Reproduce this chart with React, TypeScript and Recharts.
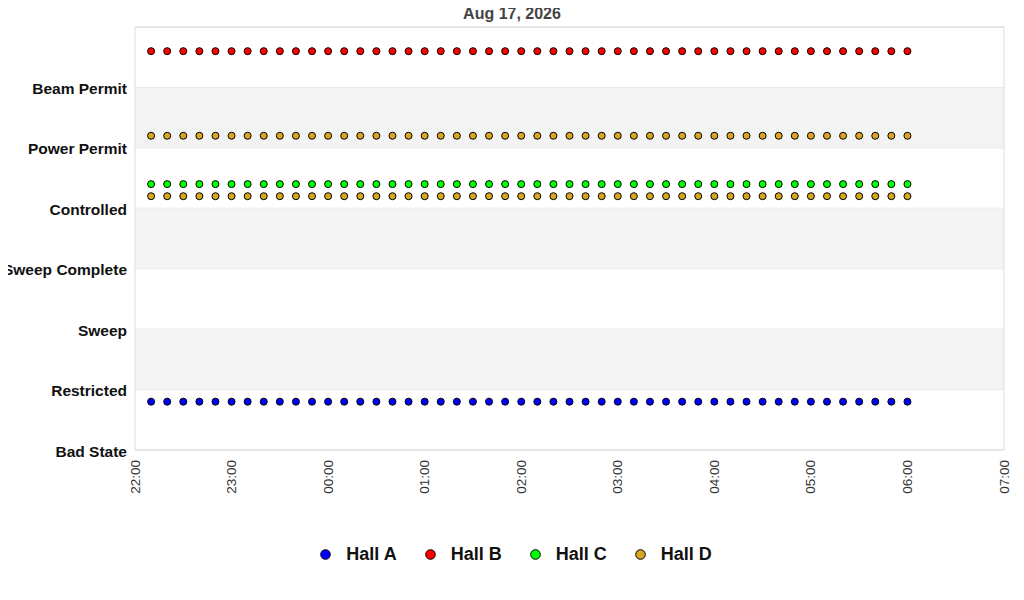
import React from 'react';
import { ScatterChart, Scatter, XAxis, YAxis, CartesianGrid, ReferenceArea, Legend } from 'recharts';

const title = 'Aug 17, 2026';
const stateLabels = ['Bad State', 'Restricted', 'Sweep', 'Sweep Complete', 'Controlled', 'Power Permit', 'Beam Permit', ''];
const yTicks = [0, 1, 2, 3, 4, 5, 6, 7];
const xTickLabels = ['22:00', '23:00', '00:00', '01:00', '02:00', '03:00', '04:00', '05:00', '06:00', '07:00'];
const xTicks = [0, 60, 120, 180, 240, 300, 360, 420, 480, 540];
// minutes after 22:00
const times = [10, 20, 30, 40, 50, 60, 70, 80, 90, 100, 110, 120, 130, 140, 150, 160, 170, 180, 190, 200, 210, 220, 230, 240, 250, 260, 270, 280, 290, 300, 310, 320, 330, 340, 350, 360, 370, 380, 390, 400, 410, 420, 430, 440, 450, 460, 470, 480];
const hallA = [0.8, 0.8, 0.8, 0.8, 0.8, 0.8, 0.8, 0.8, 0.8, 0.8, 0.8, 0.8, 0.8, 0.8, 0.8, 0.8, 0.8, 0.8, 0.8, 0.8, 0.8, 0.8, 0.8, 0.8, 0.8, 0.8, 0.8, 0.8, 0.8, 0.8, 0.8, 0.8, 0.8, 0.8, 0.8, 0.8, 0.8, 0.8, 0.8, 0.8, 0.8, 0.8, 0.8, 0.8, 0.8, 0.8, 0.8, 0.8];
const hallB = [6.6, 6.6, 6.6, 6.6, 6.6, 6.6, 6.6, 6.6, 6.6, 6.6, 6.6, 6.6, 6.6, 6.6, 6.6, 6.6, 6.6, 6.6, 6.6, 6.6, 6.6, 6.6, 6.6, 6.6, 6.6, 6.6, 6.6, 6.6, 6.6, 6.6, 6.6, 6.6, 6.6, 6.6, 6.6, 6.6, 6.6, 6.6, 6.6, 6.6, 6.6, 6.6, 6.6, 6.6, 6.6, 6.6, 6.6, 6.6];
const hallC = [4.4, 4.4, 4.4, 4.4, 4.4, 4.4, 4.4, 4.4, 4.4, 4.4, 4.4, 4.4, 4.4, 4.4, 4.4, 4.4, 4.4, 4.4, 4.4, 4.4, 4.4, 4.4, 4.4, 4.4, 4.4, 4.4, 4.4, 4.4, 4.4, 4.4, 4.4, 4.4, 4.4, 4.4, 4.4, 4.4, 4.4, 4.4, 4.4, 4.4, 4.4, 4.4, 4.4, 4.4, 4.4, 4.4, 4.4, 4.4];
const hallDUpper = [5.2, 5.2, 5.2, 5.2, 5.2, 5.2, 5.2, 5.2, 5.2, 5.2, 5.2, 5.2, 5.2, 5.2, 5.2, 5.2, 5.2, 5.2, 5.2, 5.2, 5.2, 5.2, 5.2, 5.2, 5.2, 5.2, 5.2, 5.2, 5.2, 5.2, 5.2, 5.2, 5.2, 5.2, 5.2, 5.2, 5.2, 5.2, 5.2, 5.2, 5.2, 5.2, 5.2, 5.2, 5.2, 5.2, 5.2, 5.2];
const hallDLower = [4.2, 4.2, 4.2, 4.2, 4.2, 4.2, 4.2, 4.2, 4.2, 4.2, 4.2, 4.2, 4.2, 4.2, 4.2, 4.2, 4.2, 4.2, 4.2, 4.2, 4.2, 4.2, 4.2, 4.2, 4.2, 4.2, 4.2, 4.2, 4.2, 4.2, 4.2, 4.2, 4.2, 4.2, 4.2, 4.2, 4.2, 4.2, 4.2, 4.2, 4.2, 4.2, 4.2, 4.2, 4.2, 4.2, 4.2, 4.2];

const toPoints = (vals: number[]) => vals.map((v, i) => ({ t: times[i], v }));

const series = [
  { name: 'Hall A', color: '#0000ff', data: toPoints(hallA) },
  { name: 'Hall B', color: '#ff0000', data: toPoints(hallB) },
  { name: 'Hall C', color: '#00ff00', data: toPoints(hallC) },
  { name: 'Hall D', color: '#daa520', data: [...toPoints(hallDUpper), ...toPoints(hallDLower)] },
];

const FONT = '"Liberation Sans", Arial, sans-serif';
const W = 1016;

const makeDot = (color: string) => (props: any) => {
  const { cx, cy } = props;
  if (cx == null || cy == null) return <g />;
  return <circle cx={cx} cy={cy} r={3.5} fill={color} stroke="#000" strokeWidth={1} />;
};

const XTick = (props: any) => {
  const { x, y, payload } = props;
  const idx = xTicks.indexOf(payload.value);
  return (
    <g transform={`translate(${x},${y})`}>
      <text transform="rotate(-90)" x={-2} y={0} textAnchor="end" dominantBaseline="central" fontSize={13.5} fill="#333" fontFamily={FONT}>
        {idx >= 0 ? xTickLabels[idx] : ''}
      </text>
    </g>
  );
};

const YTick = (props: any) => {
  const { y, payload } = props;
  const label = stateLabels[payload.value] ?? '';
  return (
    <text x={127} y={y + 1} textAnchor="end" dominantBaseline="central" fontSize={15.5} fontWeight="bold" fill="#111" fontFamily={FONT}>
      {label}
    </text>
  );
};

const LegendContent = () => (
  <div style={{ height: 30, display: 'flex', alignItems: 'center', justifyContent: 'center', paddingLeft: 28, fontFamily: FONT }}>
    {series.map((s, i) => (
      <div key={s.name} style={{ display: 'flex', alignItems: 'center', marginLeft: i === 0 ? 0 : 28 }}>
        <svg width={11} height={11} style={{ display: 'block' }}>
          <circle cx={5.5} cy={5.5} r={4.8} fill={s.color} stroke="#000" strokeWidth={1} />
        </svg>
        <span style={{ marginLeft: 15, fontSize: 18, fontWeight: 'bold', color: '#111' }}>{s.name}</span>
      </div>
    ))}
  </div>
);

export default function App() {
  return (
    <div style={{ position: 'relative', left: -8, width: W, height: 584, fontFamily: FONT }}>
      <div style={{ position: 'absolute', top: -3, left: 8, width: 1008, textAlign: 'center', fontSize: 16, fontWeight: 'bold', color: '#444', zIndex: 2 }}>
        {title}
      </div>
      <ScatterChart width={W} height={584} margin={{ top: 19, right: 12, left: 0, bottom: 23 }}>
        <ReferenceArea x1={0} x2={540} y1={1} y2={2} fill="#f3f3f3" fillOpacity={1} stroke="none" ifOverflow="hidden" />
        <ReferenceArea x1={0} x2={540} y1={3} y2={4} fill="#f3f3f3" fillOpacity={1} stroke="none" ifOverflow="hidden" />
        <ReferenceArea x1={0} x2={540} y1={5} y2={6} fill="#f3f3f3" fillOpacity={1} stroke="none" ifOverflow="hidden" />
        <CartesianGrid vertical={false} stroke="#dddddd" />
        <ReferenceArea x1={0} x2={540} y1={0} y2={7} fill="none" fillOpacity={0} stroke="#dddddd" strokeWidth={1} />
        <XAxis
          type="number"
          dataKey="t"
          domain={[0, 540]}
          ticks={xTicks}
          interval={0}
          axisLine={false}
          tickLine={false}
          height={89}
          tick={<XTick />}
          allowDataOverflow
        />
        <YAxis
          type="number"
          dataKey="v"
          domain={[0, 7]}
          ticks={yTicks}
          interval={0}
          width={135}
          axisLine={false}
          tickLine={false}
          tick={<YTick />}
          allowDataOverflow
        />
        <Legend verticalAlign="bottom" content={<LegendContent />} />
        {series.map((s) => (
          <Scatter key={s.name} name={s.name} data={s.data} fill={s.color} shape={makeDot(s.color)} isAnimationActive={false} />
        ))}
      </ScatterChart>
    </div>
  );
}
